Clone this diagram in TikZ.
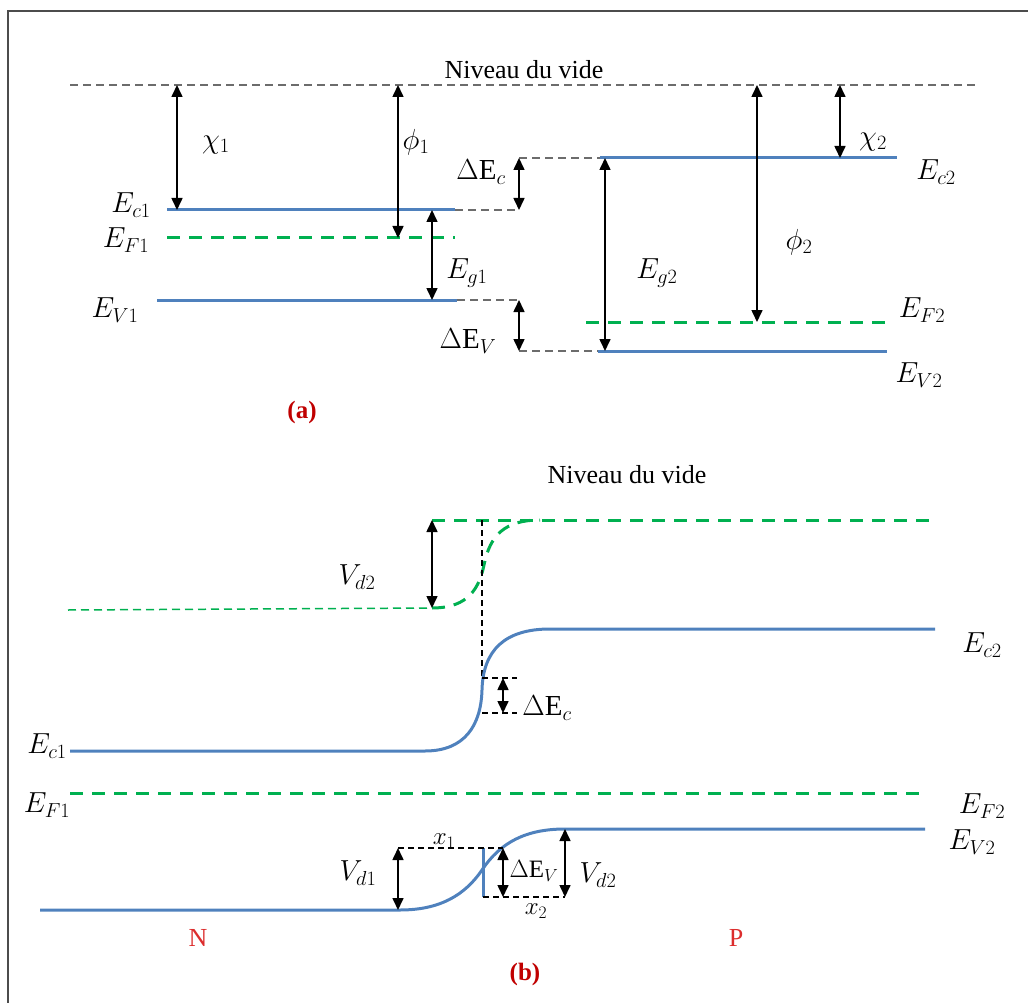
\RequirePackage{fix-cm}
\documentclass[tikz,border=0pt]{standalone}
\usepackage{fontspec}
\setmainfont{Liberation Serif}
\usetikzlibrary{arrows.meta}
\definecolor{bandblue}{RGB}{79,129,189}
\definecolor{fermigreen}{RGB}{0,176,80}
\definecolor{tagred}{RGB}{192,0,0}
\definecolor{sidered}{RGB}{220,45,45}
\tikzset{
  band/.style={line width=3pt,bandblue},
  fermi/.style={line width=3pt,fermigreen,dash pattern=on 13pt off 9pt},
  guide/.style={line width=1.6pt,gray!85!black,dash pattern=on 8pt off 5pt},
  guidethin/.style={line width=1.1pt,black,dash pattern=on 6pt off 4pt},
  gap/.style={<->,line width=1.6pt},
  lbl/.style={inner sep=0pt,font=\fontsize{29}{32}\selectfont},
  small/.style={inner sep=0pt,font=\fontsize{25}{28}\selectfont},
  word/.style={inner sep=0pt},
  tag/.style={inner sep=0pt,tagred,font=\fontsize{25}{30}\selectfont\bfseries},
}
\begin{document}
\begin{tikzpicture}[x=1pt,y=-1pt,>={Triangle[width=11pt,length=12pt]},font=\fontsize{26}{30}\selectfont]
\useasboundingbox (0,0) rectangle (1028,1003);
\draw[line width=2pt,gray!60!black] (8,1003)--(8,11)--(1028,11);
% (a) flat bands before contact
\draw[guide] (70,85)--(975,85);
\node[word] (vacA) at (524,70) {Niveau du vide};
\draw[band] (167,210)--(455,210);
\draw[guide] (455,210)--(519,210);
\draw[fermi] (167,238)--(455,238);
\draw[band] (157,300)--(457,300);
\draw[guide] (457,300)--(519,300);
\draw[guide] (519,158)--(600,158);
\draw[guide] (519,351)--(600,351);
\draw[band] (600,158)--(897,158);
\draw[fermi] (586,322)--(888,322);
\draw[band] (598,351)--(887,351);
\draw[gap] (177,85)--(177,210);
\draw[gap] (398,85)--(398,238);
\draw[gap] (432,210)--(432,300);
\draw[gap] (519,158)--(519,210);
\draw[gap] (519,300)--(519,351);
\draw[gap] (605,158)--(605,351);
\draw[gap] (757,85)--(757,322);
\draw[gap] (840,85)--(840,158);
\node[lbl] (chiA) at (216,145) {$\chi_1$};
\node[lbl] (phiA) at (416,142) {$\phi_1$};
\node[lbl] (ecA) at (131,205) {$E_{c1}$};
\node[lbl] (efA) at (126,240) {$E_{F1}$};
\node[lbl] (evA) at (115,310) {$E_{V1}$};
\node[lbl] (egA) at (467,273) {$E_{g1}$};
\node[lbl] (dEcA) at (481,172) {$\Delta\mathrm{E}_c$};
\node[lbl] (dEvA) at (468,341) {$\Delta\mathrm{E}_V$};
\node[lbl] (chiB) at (873,142) {$\chi_2$};
\node[lbl] (ecB) at (936,172) {$E_{c2}$};
\node[lbl] (phiB) at (799,242) {$\phi_2$};
\node[lbl] (egB) at (657,273) {$E_{g2}$};
\node[lbl] (efB) at (922,310) {$E_{F2}$};
\node[lbl] (evB) at (919,375) {$E_{V2}$};
\node[tag] (tagA) at (302,412) {(a)};
% (b) bent bands at equilibrium
\node[word] (vacB) at (627,475) {Niveau du vide};
\draw[fermi,line width=1.5pt,dash pattern=on 8pt off 5pt] (68,610)--(432,608);
\draw[fermi] (432,608) .. controls (462,608) and (478,595) .. (484,565)
  .. controls (490,535) and (505,520) .. (540,520);
\draw[fermi] (432,520)--(935,520);
\draw[guidethin] (482,520)--(482,678);
\draw[gap] (432,520)--(432,608);
\node[lbl] (vdTop) at (357,577) {$V_{d2}$};
\draw[band] (70,751)--(425,751) .. controls (465,751) and (481,725) .. (482,690)
  .. controls (483,650) and (505,629) .. (550,629)--(935,629);
\draw[guidethin] (482,678)--(517,678);
\draw[guidethin] (482,713)--(517,713);
\draw[gap] (503,678)--(503,713);
\node[lbl] (dEcB) at (547,708) {$\Delta\mathrm{E}_c$};
\node[lbl] (ecL) at (47,746) {$E_{c1}$};
\node[lbl] (ecR) at (982,645) {$E_{c2}$};
\draw[fermi] (70,793)--(925,793);
\node[lbl] (efL) at (47,805) {$E_{F1}$};
\node[lbl] (efR) at (982,806) {$E_{F2}$};
\draw[band] (40,910)--(400,910) .. controls (440,910) and (465,895) .. (482,870)
  .. controls (500,843) and (525,829) .. (565,829)--(925,829);
\draw[band] (483,848)--(483,897);
\draw[guidethin] (398,848)--(503,848);
\draw[guidethin] (483,897)--(565,897);
\draw[gap] (398,848)--(398,910);
\draw[gap] (503,848)--(503,897);
\draw[gap] (565,829)--(565,897);
\node[lbl] (evR) at (972,842) {$E_{V2}$};
\node[lbl] (vdLow) at (358,873) {$V_{d1}$};
\node[lbl] (vdHigh) at (598,875) {$V_{d2}$};
\node[small] (dEvB) at (534,871) {$\Delta\mathrm{E}_V$};
\node[small] (xOne) at (444,841) {$x_1$};
\node[small] (xTwo) at (536,911) {$x_2$};
\node[word,sidered] (sideN) at (198,938) {N};
\node[word,sidered] (sideP) at (736,938) {P};
\node[tag] (tagB) at (525,974) {(b)};
\end{tikzpicture}
\end{document}
